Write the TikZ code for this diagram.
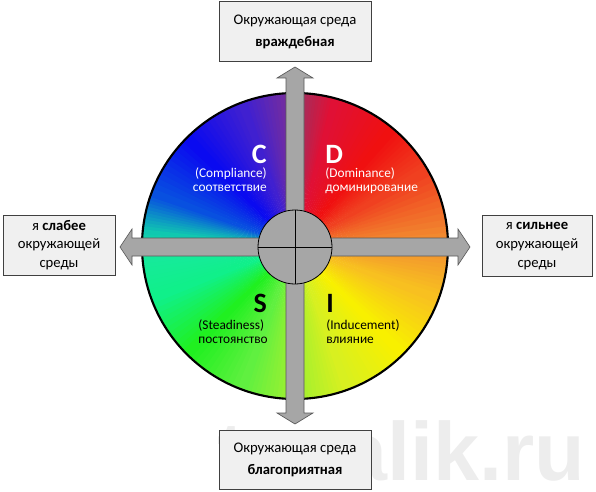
\documentclass[tikz,border=0pt]{standalone}
\usepackage{fontspec}
\setmainfont{Carlito}
\newfontfamily\wmfont{Liberation Sans}
\usetikzlibrary{positioning}

% colour wheel stops
\definecolor{w0}{HTML}{F29030}
\definecolor{w30}{HTML}{F04020}
\definecolor{w50}{HTML}{F01010}
\definecolor{w75}{HTML}{E01035}
\definecolor{w89}{HTML}{A03060}
\definecolor{w91}{HTML}{7A2E9A}
\definecolor{w110}{HTML}{4020D0}
\definecolor{w135}{HTML}{0A0AF0}
\definecolor{w160}{HTML}{0850E0}
\definecolor{w175}{HTML}{10C8B0}
\definecolor{w180}{HTML}{18E8A0}
\definecolor{w200}{HTML}{10F08A}
\definecolor{w225}{HTML}{20F020}
\definecolor{w250}{HTML}{60F040}
\definecolor{w270}{HTML}{A0F030}
\definecolor{w290}{HTML}{D8F020}
\definecolor{w315}{HTML}{F8F000}
\definecolor{w340}{HTML}{F8C020}
\definecolor{barfill}{HTML}{A6A6A6}
\definecolor{boxfill}{HTML}{F0F0F0}

\begin{document}
\begin{tikzpicture}[x=0.75pt, y=0.75pt,
    env box/.style={draw=black!75, fill=boxfill, line width=0.6pt, align=center, inner sep=0pt},
    quad letter/.style={font=\fontsize{21}{21}\selectfont\bfseries, inner sep=0pt},
    quad text/.style={font=\fontsize{10}{10.5}\selectfont, inner sep=0pt},
    bar/.style={fill=barfill, draw=black!65, line width=0.5pt}]
    \useasboundingbox (0,0) rectangle (596,-492);

    % watermark
    \node[font=\wmfont\bfseries\fontsize{62}{62}\selectfont, text=black!7, inner sep=0pt, anchor=base west] (mark) at (217,-480) {tovalik.ru};

    % the colour wheel
    \coordinate (c) at (295,-246);
    \foreach \a/\b/\ca/\cb in {0/30/w0/w30, 30/50/w30/w50, 50/75/w50/w75, 75/89/w75/w89,
        89/91/w89/w91, 91/110/w91/w110, 110/135/w110/w135, 135/160/w135/w160,
        160/175/w160/w175, 175/180/w175/w180, 180/200/w180/w200, 200/225/w200/w225,
        225/250/w225/w250, 250/270/w250/w270, 270/290/w270/w290, 290/315/w290/w315,
        315/340/w315/w340, 340/360/w340/w0}{
        \foreach \i in {0,...,11}{
            \pgfmathtruncatemacro\p{\i*100/11}
            \pgfmathsetmacro\s{\a+(\b-\a)*\i/12}
            \pgfmathsetmacro\e{\s+(\b-\a)/12+0.4}
            \fill[\cb!\p!\ca] (c) -- ++(\s:153) arc[start angle=\s, end angle=\e, radius=153] -- cycle;
        }
    }
    \draw[line width=1.6pt] (c) circle[radius=153];

    % the two double arrows
    \draw[bar] (286,-78) -- (277,-78) -- (295,-67) -- (313,-78) -- (304,-78)
        -- (304,-413) -- (313,-413) -- (295,-424) -- (277,-413) -- (286,-413) -- cycle;
    \draw[bar] (132,-238) -- (132,-229) -- (120,-247) -- (132,-265) -- (132,-256)
        -- (458,-256) -- (458,-265) -- (470,-247) -- (458,-229) -- (458,-238) -- cycle;

    % hub
    \node[circle, fill=barfill, draw=black, line width=0.6pt, minimum size=55.5pt, inner sep=0pt] (hub) at (295,-247) {};
    \draw[line width=0.6pt] (hub.north) -- (hub.south);
    \draw[line width=0.6pt] (hub.west) -- (hub.east);

    % quadrants
    \node[quad letter, text=white, anchor=base east] (C) at (267,-163) {C};
    \node[quad text, text=white, anchor=north east, align=right] (Ct) at (267,-167) {(Compliance)\\соответствие};
    \node[quad letter, text=white, anchor=base west] (D) at (325,-163) {D};
    \node[quad text, text=white, anchor=north west, align=left] (Dt) at (325,-167) {(Dominance)\\доминирование};
    \node[quad letter, anchor=base east] (S) at (267,-312) {S};
    \node[quad text, anchor=north east, align=left] (St) at (268,-319) {(Steadiness)\\постоянство};
    \node[quad letter, anchor=base west] (I) at (326,-312) {I};
    \node[quad text, anchor=north west, align=left] (It) at (326,-319) {(Inducement)\\влияние};

    % surroundings
    \node[env box, minimum width=114pt, minimum height=44.5pt, font=\fontsize{11}{16.5}\selectfont] (top) at (295,-31.5) {Окружающая среда\\\textbf{враждебная}};
    \node[env box, minimum width=114pt, minimum height=44pt, font=\fontsize{11}{16.5}\selectfont] (bottom) at (295,-460) {Окружающая среда\\\textbf{благоприятная}};
    \node[env box, minimum width=84pt, minimum height=45pt, font=\fontsize{11}{14}\selectfont] (left) at (59,-245) {я \textbf{слабее}\\окружающей\\среды};
    \node[env box, minimum width=82.5pt, minimum height=46pt, font=\fontsize{11}{14}\selectfont] (right) at (537,-246) {я \textbf{сильнее}\\окружающей\\среды};
\end{tikzpicture}
\end{document}
